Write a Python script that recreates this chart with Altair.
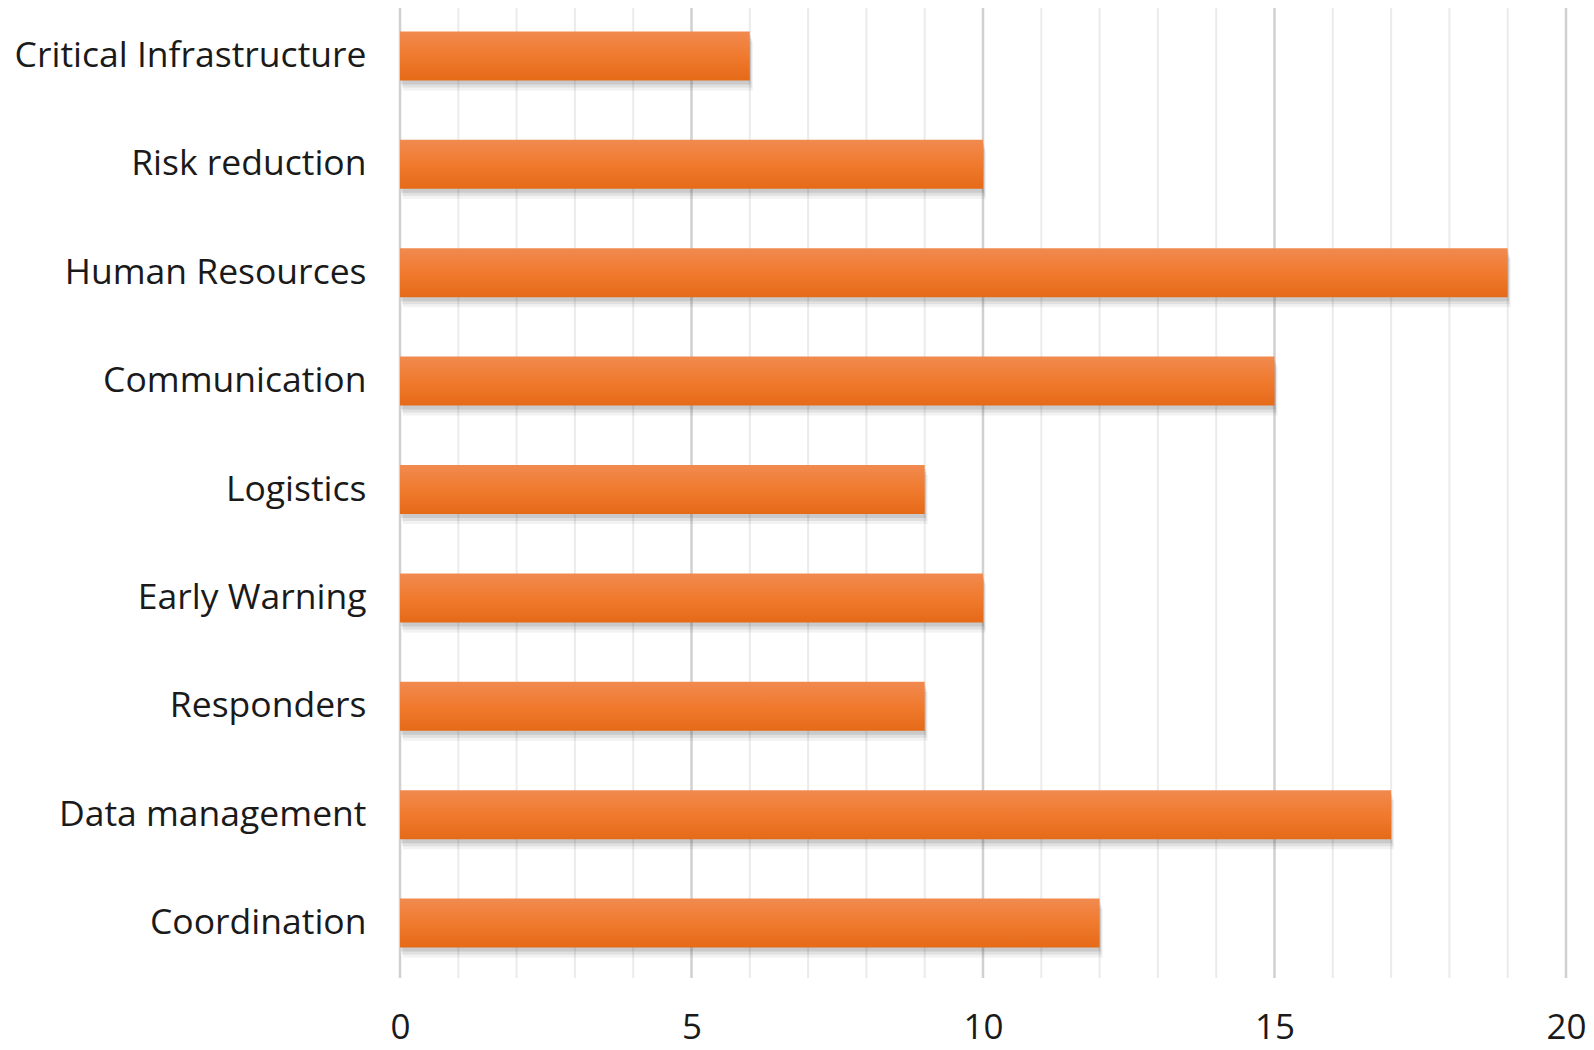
import altair as alt
import pandas as pd

categories = ["Critical Infrastructure", "Risk reduction", "Human Resources",
              "Communication", "Logistics", "Early Warning", "Responders",
              "Data management", "Coordination"]
values = [6, 10, 19, 15, 9, 10, 9, 17, 12]
major_ticks = [0, 5, 10, 15, 20]
minor_ticks = [1, 2, 3, 4, 6, 7, 8, 9, 11, 12, 13, 14, 16, 17, 18, 19]

bars = pd.DataFrame({"cat": categories, "val": values})
minor = pd.DataFrame({"val": minor_ticks})
major = pd.DataFrame({"val": major_ticks})

FONT = "Open Sans"
W, H = 1166, 970

xscale = alt.Scale(domain=[0, 20], nice=False, zero=True)
yscale = alt.Scale(domain=categories, paddingInner=0.548, paddingOuter=0.248, align=0.435)

xaxis = alt.Axis(title=None, values=major_ticks, grid=False, domain=False, ticks=False,
                 labelFlush=False, labelOverlap=False,
                 labelPadding=60, labelBaseline="alphabetic", labelFont=FONT, labelFontSize=35,
                 labelColor="#1a1a1a", format="d")
xenc = alt.X("val:Q", scale=xscale, axis=xaxis)

yenc = alt.Y("cat:N", sort=categories, scale=yscale,
             axis=alt.Axis(title=None, domain=False, ticks=False, labelPadding=34,
                           labelFont=FONT, labelFontSize=35.5, labelColor="#1a1a1a",
                           labelLimit=420))

minor_rules = alt.Chart(minor).mark_rule(color="#ebebeb", strokeWidth=2).encode(x=xenc)
major_rules = alt.Chart(major).mark_rule(color="#d0d0d0", strokeWidth=2.5).encode(x=xenc)

shadows = [
    alt.Chart(bars).mark_bar(color="#444444", opacity=op, yOffset=dy, xOffset=dx).encode(x=xenc, y=yenc)
    for op, dy, dx in [(0.07, 10, 3), (0.1, 7, 2), (0.14, 4, 1)]
]

grad = alt.Gradient(gradient="linear", x1=0, y1=0, x2=0, y2=1,
                    stops=[alt.GradientStop(color="#f18a50", offset=0),
                           alt.GradientStop(color="#f07a2e", offset=0.5),
                           alt.GradientStop(color="#e56a18", offset=1)])

main = alt.Chart(bars).mark_bar(color=grad).encode(x=xenc, y=yenc)

chart = alt.layer(minor_rules, major_rules, *shadows, main).properties(
    width=W, height=H,
    padding={"left": 392, "top": 0, "right": 20, "bottom": 72},
    autosize=alt.AutoSizeParams(type="none"),
).configure_view(stroke=None)

chart.save("out.html", embed_options={"renderer": "svg", "actions": False})
